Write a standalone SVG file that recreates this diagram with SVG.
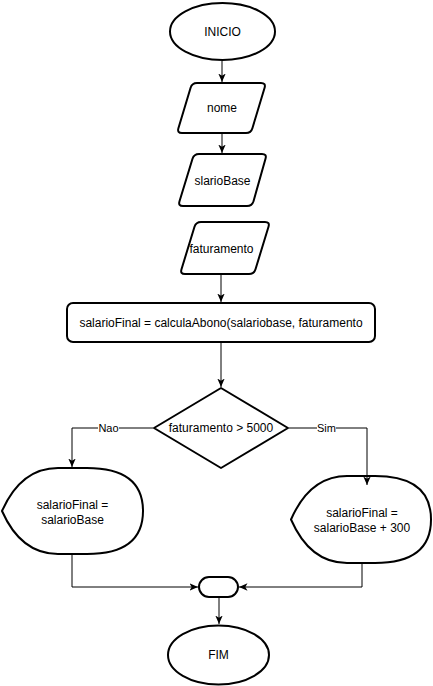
<svg xmlns="http://www.w3.org/2000/svg" width="433" height="686" viewBox="0 0 433 686">
<defs>
<marker id="arr" markerUnits="userSpaceOnUse" markerWidth="9" markerHeight="9" viewBox="0 0 9 9" refX="8.5" refY="4.5" orient="auto">
<path d="M0,0.8 L8.5,4.5 L0,8.2 L2.2,4.5 Z" fill="#000"/>
</marker>
<style>
.s{fill:#fff;stroke:#000;stroke-width:2;stroke-linejoin:round}
.t{font-family:"Liberation Sans",Arial,sans-serif;font-size:12px;fill:#000;text-anchor:middle}
.l{font-family:"Liberation Sans",Arial,sans-serif;font-size:11px;fill:#000;text-anchor:middle}
.c{fill:none;stroke:#000;stroke-width:1;marker-end:url(#arr)}
</style>
</defs>
<rect width="433" height="686" fill="#fff"/>
<g id="inicio">
<ellipse class="s" cx="222.5" cy="31.5" rx="52.5" ry="28.5"/>
<text class="t" x="222.5" y="36">INICIO</text>
</g>
<g id="nome">
<path class="s" d="M197,83 L261,83 Q266,83 264.6,87.8 L252.4,128.2 Q251,133 246,133 L182,133 Q177,133 178.4,128.2 L190.6,87.8 Q192,83 197,83 Z"/>
<text class="t" x="222" y="112">nome</text>
</g>
<g id="slarioBase">
<path class="s" d="M199,154 L262,154 Q267,154 265.5,158.8 L253.5,201.2 Q252,206 247,206 L183,206 Q178,206 179.5,201.2 L192.5,158.8 Q194,154 199,154 Z"/>
<text class="t" x="222.5" y="184.5">slarioBase</text>
</g>
<g id="faturamento">
<path class="s" d="M201,222 L265,222 Q270,222 268.5,226.8 L255.5,269.2 Q254,274 249,274 L185,274 Q180,274 181.5,269.2 L194.5,226.8 Q196,222 201,222 Z"/>
<text class="t" x="221.5" y="252.5">faturamento</text>
</g>
<g id="calcula">
<rect class="s" x="67" y="303" width="308" height="39" rx="6"/>
<text class="t" x="221" y="327">salarioFinal = calculaAbono(salariobase, faturamento</text>
</g>
<g id="decisao">
<path class="s" d="M221,388 L288,428 L221,468 L154,428 Z"/>
<text class="t" x="221" y="432">faturamento &gt; 5000</text>
</g>
<g id="nao">
<path class="s" d="M2,511 Q21,468 58,468 L87,468 Q143,468 143,511 Q143,554 87,554 L58,554 Q21,554 2,511 Z"/>
<text class="t" x="72.5" y="509">salarioFinal =</text>
<text class="t" x="72.5" y="524">salarioBase</text>
</g>
<g id="sim">
<path class="s" d="M291,519.5 Q310,476 347,476 L375,476 Q431,476 431,519.5 Q431,563 375,563 L347,563 Q310,563 291,519.5 Z"/>
<text class="t" x="362" y="517">salarioFinal =</text>
<text class="t" x="362" y="532">salarioBase + 300</text>
</g>
<g id="juncao">
<rect class="s" x="199" y="577" width="39" height="20" rx="10"/>
</g>
<g id="fim">
<ellipse class="s" cx="218.5" cy="655" rx="50.5" ry="29.5"/>
<text class="t" x="218.5" y="659">FIM</text>
</g>
<g id="connectors">
<path class="c" d="M222,61 L222,82"/>
<path class="c" d="M222,134 L222,153"/>
<path class="c" d="M221,275 L221,302"/>
<path class="c" d="M221,343 L221,387"/>
<path class="c" d="M153,428 L72,428 L72,467"/>
<path class="c" d="M289,428 L367,428 L367,485"/>
<path class="c" d="M72,555 L72,587 L198,587"/>
<path class="c" d="M362,564 L362,587 L239,587"/>
<path class="c" d="M219,598 L219,624"/>
<rect x="98" y="422" width="21" height="12" fill="#fff"/>
<text class="l" x="108.5" y="432">Nao</text>
<rect x="317" y="422" width="19" height="12" fill="#fff"/>
<text class="l" x="326.5" y="432">Sim</text>
</g>
</svg>
